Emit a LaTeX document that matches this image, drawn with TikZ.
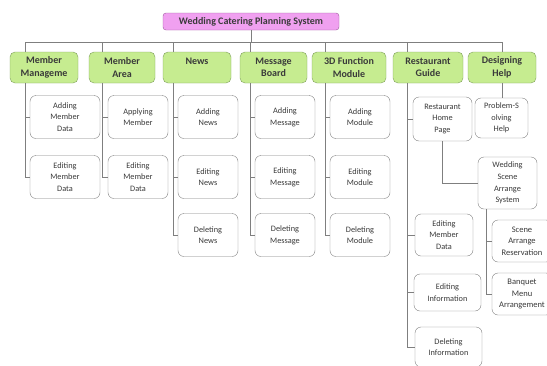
\documentclass[tikz,border=0pt]{standalone}
\usepackage{fontspec}
\setmainfont{Carlito}

\definecolor{titlefill}{HTML}{F0A0F0}
\definecolor{titleline}{HTML}{9C5A9C}
\definecolor{topfill}{HTML}{C6EC90}
\definecolor{topline}{HTML}{7E9E5A}
\definecolor{subline}{HTML}{808080}
\definecolor{wirecol}{HTML}{7F7F7F}
\definecolor{txt}{HTML}{3A3A3A}

\tikzset{
  titlebox/.style={draw=titleline, fill=titlefill, rounded corners=3pt, minimum width=176pt, minimum height=17pt, inner sep=0pt, font=\fontsize{10}{11}\selectfont\bfseries, text=txt},
  topbox/.style={draw=topline, fill=topfill, rounded corners=5pt, minimum height=31pt, inner sep=0pt, align=center, font=\fontsize{10}{12.5}\selectfont\bfseries, text=txt},
  subbox/.style={draw=subline, fill=white, rounded corners=6pt, minimum width=60pt, minimum height=43pt, inner sep=0pt, align=center, font=\fontsize{8.3}{11.7}\selectfont, text=txt},
  wire/.style={draw=wirecol, line width=0.8pt}
}

\begin{document}
\begin{tikzpicture}[x=1pt, y=-1pt]
  \useasboundingbox (0,0) rectangle (547,365);

  % System title
  \node[titlebox] (wcps) at (251,21.5) {Wedding Catering Planning System};

  % Main modules
  \foreach \n/\x/\w/\t in {mm/44/68/{Member\\Manageme}, ma/122/66/{Member\\Area}, nw/197/68/{News\\\mbox{}}, mb/273.5/67/{Message\\Board}, fm/349/74/{3D Function\\Module}, rg/428/70/{Restaurant\\Guide}, dh/502/68/{Designing\\Help}} {
    \node[topbox, minimum width=\w] (\n) at (\x,67.5) {\t};
  }

  % Bus and drops to the modules
  \foreach \n/\x in {mm/25, ma/102, nw/173, mb/250, fm/325, rg/407, dh/502} {
    \coordinate (t\n) at (\x,42);
    \draw[wire] (t\n) -- (t\n |- \n.north);
  }
  \draw[wire] (tmm) -- (tdh);
  \draw[wire] (wcps.south) -- (wcps.south |- tmm);

  % Member Management
  \foreach \i/\y/\t in {a/117/{Adding\\Member\\Data}, b/177/{Editing\\Member\\Data}} {
    \node[subbox, minimum width=70] (mm\i) at (65,\y) {\t};
    \draw[wire] (tmm |- mm\i) -- (mm\i);
  }
  \draw[wire] (tmm |- mm.south) -- (tmm |- mmb);

  % Member Area
  \foreach \i/\y/\t in {a/117/{Applying\\Member}, b/177/{Editing\\Member\\Data}} {
    \node[subbox] (ma\i) at (138,\y) {\t};
    \draw[wire] (tma |- ma\i) -- (ma\i);
  }
  \draw[wire] (tma |- ma.south) -- (tma |- mab);

  % News
  \foreach \i/\y/\t in {a/117/{Adding\\News}, b/177/{Editing\\News}, c/235/{Deleting\\News}} {
    \node[subbox] (nw\i) at (208,\y) {\t};
    \draw[wire] (tnw |- nw\i) -- (nw\i);
  }
  \draw[wire] (tnw |- nw.south) -- (tnw |- nwc);

  % Message Board
  \foreach \i/\y/\t in {a/117/{Adding\\Message}, b/177/{Editing\\Message}, c/235/{Deleting\\Message}} {
    \node[subbox] (mb\i) at (285,\y) {\t};
    \draw[wire] (tmb |- mb\i) -- (mb\i);
  }
  \draw[wire] (tmb |- mb.south) -- (tmb |- mbc);

  % 3D Function Module
  \foreach \i/\y/\t in {a/117/{Adding\\Module}, b/177/{Editing\\Module}, c/235/{Deleting\\Module}} {
    \node[subbox] (fm\i) at (360,\y) {\t};
    \draw[wire] (tfm |- fm\i) -- (fm\i);
  }
  \draw[wire] (tfm |- fm.south) -- (tfm |- fmc);

  % Restaurant Guide
  \node[subbox, minimum width=59, minimum height=44] (rhp) at (442.5,119) {Restaurant\\Home\\Page};
  \node[subbox, minimum width=58, minimum height=42] (rmd) at (444,235) {Editing\\Member\\Data};
  \node[subbox, minimum width=67, minimum height=37] (rei) at (447.5,292.5) {Editing\\Information};
  \node[subbox, minimum width=67, minimum height=40] (rdi) at (448.5,347) {Deleting\\Information};
  \foreach \n in {rhp, rmd, rei, rdi}
    \draw[wire] (trg |- \n) -- (\n);
  \draw[wire] (trg |- rg.south) -- (trg |- rdi);

  % Wedding scene arrangement
  \node[subbox, minimum width=59, minimum height=52] (wss) at (507.5,183) {Wedding\\Scene\\Arrange\\System};
  \node[subbox, minimum width=60, minimum height=42, font=\fontsize{8.5}{11.7}\selectfont] (sar) at (522,241) {Scene\\Arrange\\Reservation};
  \node[subbox, minimum width=60, minimum height=42, font=\fontsize{8.5}{11.7}\selectfont] (bma) at (522,294) {Banquet\\Menu\\Arrangement};
  \draw[wire] (rhp.south) |- (wss);
  \coordinate (tws) at (486,0);
  \foreach \n in {sar, bma}
    \draw[wire] (tws |- \n) -- (\n);
  \draw[wire] (tws |- wss.south) -- (tws |- bma);

  % Designing Help
  \node[subbox, minimum width=53, minimum height=40] (psh) at (501.5,118) {Problem-S\\olving\\Help};
  \draw[wire] (tdh |- dh.south) -- (tdh |- psh.north);
\end{tikzpicture}
\end{document}
